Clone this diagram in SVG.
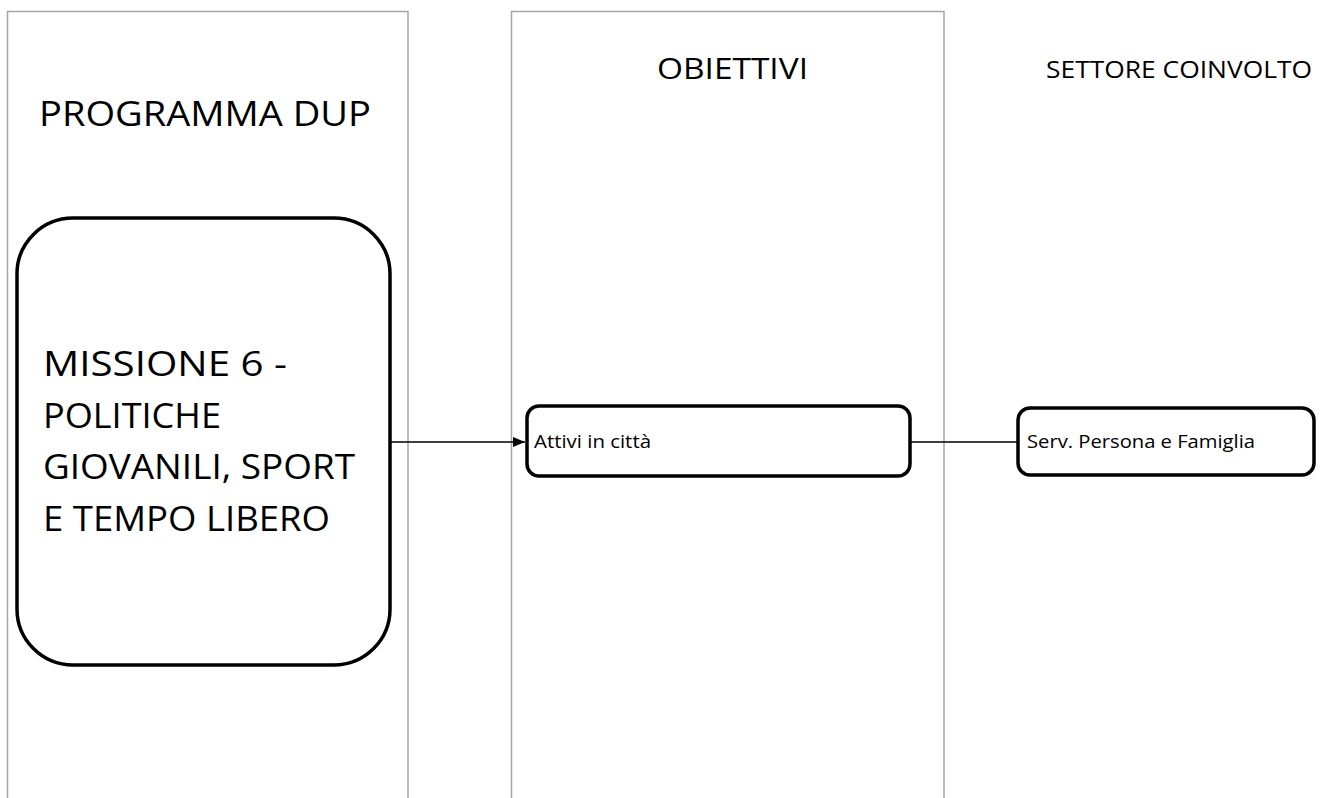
<svg xmlns="http://www.w3.org/2000/svg" width="1321" height="798" viewBox="0 0 1321 798">
  <style>
    .lane { fill: none; stroke: #a6a6a6; stroke-width: 1.5; }
    .box { fill: #ffffff; stroke: #000000; stroke-width: 3.5; }
    .wire { fill: none; stroke: #000000; stroke-width: 1.4; }
    text { font-family: "Open Sans", "Liberation Sans", sans-serif; fill: #000000; }
    .big { font-size: 35px; }
    .head { font-size: 30px; }
    .sub { font-size: 24px; }
    .small { font-size: 19px; }
  </style>
  <defs>
    <marker id="arrow" viewBox="0 0 12 10" refX="12" refY="5" markerWidth="12" markerHeight="10" markerUnits="userSpaceOnUse" orient="auto">
      <path d="M0,0 L12,5 L0,10 z" fill="#000000"/>
    </marker>
  </defs>

  <!-- column frames -->
  <g id="lanes">
    <path class="lane" d="M7.5,800 V11.5 H408 V800"/>
    <path class="lane" d="M511.5,800 V11.5 H944 V800"/>
  </g>

  <!-- column headings -->
  <g id="headings">
    <text class="big" x="39" y="126" textLength="332" lengthAdjust="spacingAndGlyphs">PROGRAMMA DUP</text>
    <text class="head" x="657" y="79" textLength="151" lengthAdjust="spacingAndGlyphs">OBIETTIVI</text>
    <text class="sub" x="1046" y="78" textLength="266" lengthAdjust="spacingAndGlyphs">SETTORE COINVOLTO</text>
  </g>

  <!-- connectors -->
  <g id="connectors">
    <line class="wire" x1="390" y1="442" x2="525" y2="442" marker-end="url(#arrow)"/>
    <line class="wire" x1="910" y1="442" x2="1018" y2="442"/>
  </g>

  <g id="missione">
    <rect class="box" x="17" y="218" width="373" height="447" rx="56" ry="56"/>
    <text class="big" x="43" y="376" textLength="244" lengthAdjust="spacingAndGlyphs">MISSIONE 6 -</text>
    <text class="big" x="43" y="428" textLength="178" lengthAdjust="spacingAndGlyphs">POLITICHE</text>
    <text class="big" x="43" y="479" textLength="312" lengthAdjust="spacingAndGlyphs">GIOVANILI, SPORT</text>
    <text class="big" x="43" y="531" textLength="287" lengthAdjust="spacingAndGlyphs">E TEMPO LIBERO</text>
  </g>

  <g id="obiettivo">
    <rect class="box" x="527" y="406" width="383" height="70" rx="12" ry="12"/>
    <text class="small" x="534" y="448" textLength="117" lengthAdjust="spacingAndGlyphs">Attivi in città</text>
  </g>

  <g id="settore">
    <rect class="box" x="1018" y="408" width="296" height="67" rx="12" ry="12"/>
    <text class="small" x="1027" y="448" textLength="228" lengthAdjust="spacingAndGlyphs">Serv. Persona e Famiglia</text>
  </g>
</svg>
